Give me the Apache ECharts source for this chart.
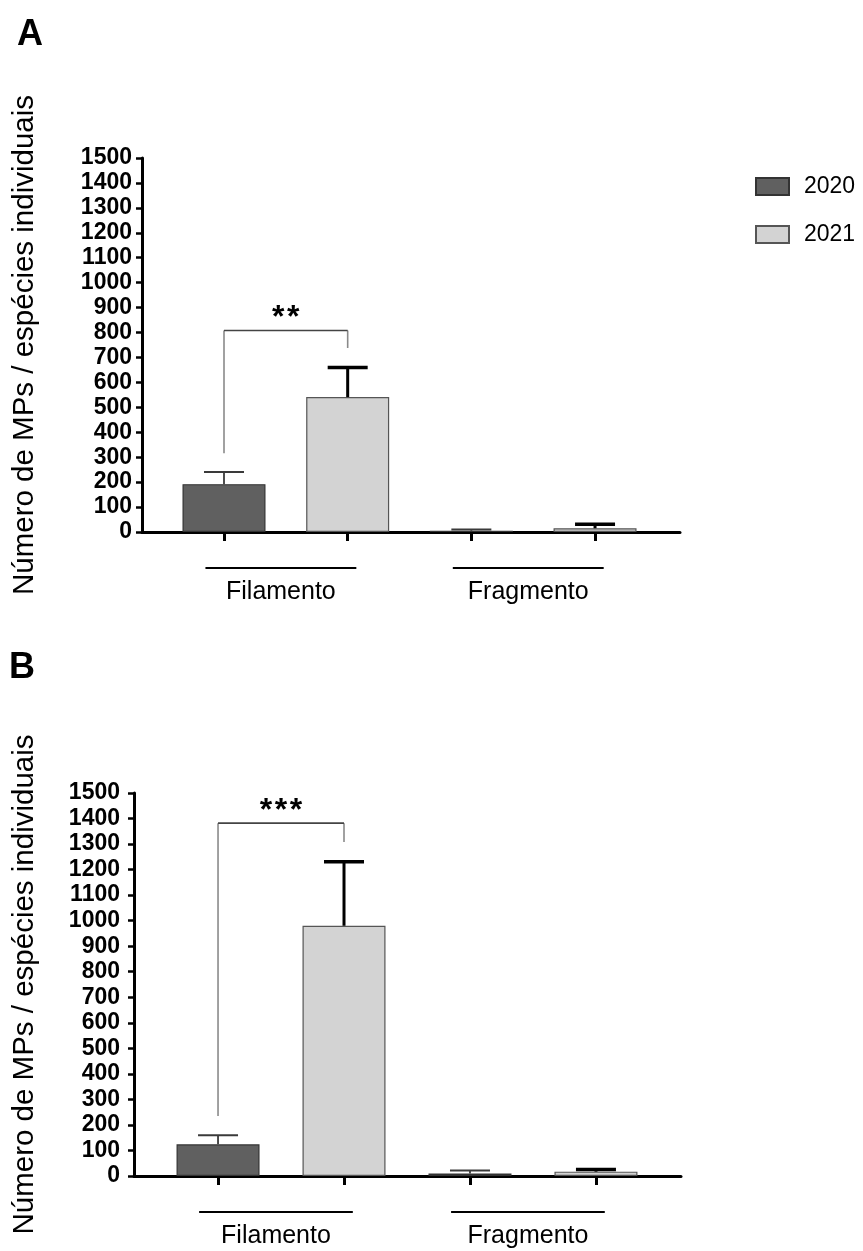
<!DOCTYPE html>
<html>
<head>
<meta charset="utf-8">
<script src="https://cdn.jsdelivr.net/npm/echarts@6/dist/echarts.min.js"></script>
<style>
  html, body { margin: 0; padding: 0; background: #fff; }
  #chart { width: 863px; height: 1251px; }
</style>
</head>
<body>
<div id="chart"></div>
<script>
// ---- data ----
const groups = ['Filamento', 'Fragmento'];
const years = ['2020', '2021'];
const yTicks = { min: 0, max: 1500, step: 100 };

// bar slots along the x axis: [Filamento, Fragmento] for each year
const slot2020 = [0, 2];
const slot2021 = [1, 3];

// Panel A: means and error (upper bar length)
const meanA2020 = [192, 5];
const errA2020  = [49, 5];
const meanA2021 = [541, 15];
const errA2021  = [119, 16];

// Panel B
const meanB2020 = [124, 10];
const errB2020  = [36, 12];
const meanB2021 = [980, 17];
const errB2021  = [251, 8];

// significance brackets: [left slot, right slot, top, left leg end, right leg end]
const sigA = [0, 1, 808, 316, 738];
const sigB = [0, 1, 1382, 235, 1308];
const starsA = '**';
const starsB = '***';

// group members (slots) for the underline labels
const groupSlots = [[0, 1], [2, 3]];

// ---- styling ----
const FONT = 'Liberation Sans, Arial, sans-serif';
const C2020 = '#606060', B2020 = '#333333';
const C2021 = '#d3d3d3', B2021 = '#555555';

const chart = echarts.init(document.getElementById('chart'), null, { renderer: 'canvas' });

function pairs(xs, ys) { return xs.map((x, i) => [x, ys[i]]); }
function triples(xs, ys, es) { return xs.map((x, i) => [x, ys[i], es[i]]); }

function errorBars(color, width, capWidth) {
  return function (params, api) {
    const x = api.value(0), m = api.value(1), e = api.value(2);
    const p0 = api.coord([x, m]);
    const p1 = api.coord([x, m + e]);
    const h = 20;
    return {
      type: 'group',
      children: [
        { type: 'line', shape: { x1: p0[0], y1: p0[1], x2: p1[0], y2: p1[1] },
          style: { stroke: color, lineWidth: width } },
        { type: 'line', shape: { x1: p1[0] - h, y1: p1[1], x2: p1[0] + h, y2: p1[1] },
          style: { stroke: color, lineWidth: capWidth } }
      ]
    };
  };
}

function bracket(stars) {
  return function (params, api) {
    const xl = api.value(0), xr = api.value(1);
    const top = api.value(2), le = api.value(3), re = api.value(4);
    const pTL = api.coord([xl, top]), pTR = api.coord([xr, top]);
    const pL = api.coord([xl, le]), pR = api.coord([xr, re]);
    const mid = (pTL[0] + pTR[0]) / 2;
    const children = [
      { type: 'line', shape: { x1: pL[0], y1: pL[1], x2: pTL[0], y2: pTL[1] },
        style: { stroke: '#8a8a8a', lineWidth: 1.6 } },
      { type: 'line', shape: { x1: pR[0], y1: pR[1], x2: pTR[0], y2: pTR[1] },
        style: { stroke: '#8a8a8a', lineWidth: 1.6 } },
      { type: 'line', shape: { x1: pTL[0], y1: pTL[1], x2: pTR[0], y2: pTR[1] },
        style: { stroke: '#444', lineWidth: 1.6 } }
    ];
    const n = stars.length, pitch = 15;
    for (let i = 0; i < n; i++) {
      children.push({
        type: 'text',
        style: {
          text: '*', x: mid + (i - (n - 1) / 2) * pitch, y: pTL[1] - 12,
          align: 'center', verticalAlign: 'middle',
          font: 'bold 32px ' + FONT, fill: '#000'
        }
      });
    }
    return { type: 'group', children };
  };
}

function groupLabels(params, api) {
  const first = api.value(0), last = api.value(1);
  const a = api.coord([first - 0.15, 0]);
  const b = api.coord([last + 0.07, 0]);
  const y = a[1];
  return {
    type: 'group',
    children: [
      { type: 'line', shape: { x1: a[0], y1: y + 36, x2: b[0], y2: y + 36 },
        style: { stroke: '#000', lineWidth: 2.2 } },
      { type: 'text',
        style: { text: groups[params.dataIndex], x: (a[0] + b[0]) / 2, y: y + 60,
                 align: 'center', verticalAlign: 'middle',
                 font: '25px ' + FONT, fill: '#000' } }
    ]
  };
}

function xAxis(gridIndex, min, max) {
  return {
    gridIndex, type: 'value', min, max,
    axisLine: { show: true, onZero: false, lineStyle: { color: '#000', width: 3 } },
    axisTick: { show: true, customValues: [0, 1, 2, 3], inside: false, length: 9,
                lineStyle: { color: '#000', width: 3 } },
    axisLabel: { show: false },
    splitLine: { show: false }
  };
}

function yAxis(gridIndex, margin, nameGap) {
  return {
    gridIndex, type: 'value', min: yTicks.min, max: yTicks.max, interval: yTicks.step,
    name: 'Número de MPs / espécies individuais',
    nameLocation: 'middle', nameRotate: 90, nameGap,
    nameTextStyle: { fontFamily: FONT, fontSize: 29.5, color: '#000' },
    axisLine: { show: true, onZero: false, lineStyle: { color: '#000', width: 3 } },
    axisTick: { show: true, length: 6, lineStyle: { color: '#000', width: 2.5 } },
    axisLabel: { fontFamily: FONT, fontSize: 23, fontWeight: 'bold', color: '#000', margin,
                 formatter: v => String(v) },
    splitLine: { show: false }
  };
}

function barSeries(name, xi, slots, means, fill, border) {
  return {
    name, type: 'bar', xAxisIndex: xi, yAxisIndex: xi,
    data: pairs(slots, means), barWidth: 83, barGap: '-100%',
    itemStyle: { color: fill, borderColor: border, borderWidth: 1.2 },
    silent: true
  };
}

function panelSeries(xi, m20, e20, m21, e21, sig, stars) {
  return [
    barSeries(years[0], xi, slot2020, m20, C2020, B2020),
    barSeries(years[1], xi, slot2021, m21, C2021, B2021),
    { type: 'custom', xAxisIndex: xi, yAxisIndex: xi, z: 3,
      renderItem: errorBars('#3a3a3a', 1.8, 2), data: triples(slot2020, m20, e20) },
    { type: 'custom', xAxisIndex: xi, yAxisIndex: xi, z: 3,
      renderItem: errorBars('#000', 3, 3.5), data: triples(slot2021, m21, e21) },
    { type: 'custom', xAxisIndex: xi, yAxisIndex: xi, z: 3,
      renderItem: bracket(stars), data: [sig] },
    { type: 'custom', xAxisIndex: xi, yAxisIndex: xi, z: 3, clip: false,
      renderItem: groupLabels, data: groupSlots }
  ];
}

chart.setOption({
  animation: false,
  backgroundColor: '#fff',
  textStyle: { fontFamily: FONT },
  grid: [
    { left: 142, top: 158, width: 538, height: 374 },
    { left: 134, top: 793, width: 547, height: 383 }
  ],
  xAxis: [xAxis(0, -0.663, 3.687), xAxis(1, -0.667, 3.675)],
  yAxis: [yAxis(0, 10, 102), yAxis(1, 14, 94)],
  legend: {
    data: years, orient: 'vertical', left: 750, top: 170,
    itemWidth: 33, itemHeight: 17, itemGap: 25, icon: 'rect',
    textStyle: { fontFamily: FONT, fontSize: 23, color: '#000', padding: [0, 0, 0, 10] },
    selectedMode: false
  },
  graphic: [
    { type: 'text', left: 17, top: 17, style: { text: 'A', font: 'bold 36px ' + FONT, fill: '#000' } },
    { type: 'text', left: 9, top: 650, style: { text: 'B', font: 'bold 36px ' + FONT, fill: '#000' } }
  ],
  series: [
    ...panelSeries(0, meanA2020, errA2020, meanA2021, errA2021, sigA, starsA),
    ...panelSeries(1, meanB2020, errB2020, meanB2021, errB2021, sigB, starsB)
  ]
});
</script>
</body>
</html>
